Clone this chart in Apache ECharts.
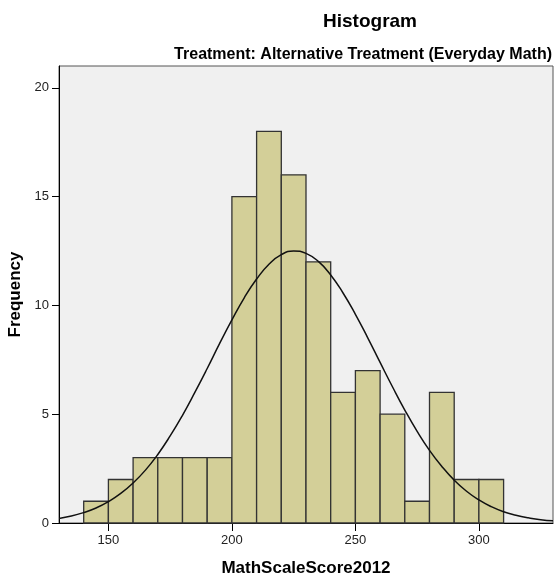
<!DOCTYPE html>
<html>
<head>
<meta charset="utf-8">
<script src="https://cdn.jsdelivr.net/npm/echarts@6/dist/echarts.min.js"></script>
<style>
  html, body { margin: 0; padding: 0; background: #fff; }
  #chart { width: 558px; height: 575px; }
</style>
</head>
<body>
<div id="chart"></div>
<script>
// histogram bins (width 10)
var binStarts = [140, 150, 160, 170, 180, 190, 200, 210, 220, 230, 240, 250, 260, 270, 280, 290, 300];
var counts = [1, 2, 3, 3, 3, 3, 15, 18, 16, 12, 6, 7, 5, 1, 6, 2, 2];
var binWidth = 10;

// normal curve
var curveX = [130, 135, 140, 145, 150, 155, 160, 165, 170, 175, 180, 185, 190, 195, 200, 205, 210, 215, 220, 225,
              230, 235, 240, 245, 250, 255, 260, 265, 270, 275, 280, 285, 290, 295, 300, 305, 310, 315, 320, 325, 330];
var curveY = [0.21, 0.32, 0.48, 0.69, 0.98, 1.36, 1.84, 2.43, 3.15, 4.00, 4.95, 6.00, 7.10, 8.24, 9.33, 10.35, 11.21, 11.89, 12.33, 12.50,
              12.39, 12.02, 11.40, 10.57, 9.59, 8.51, 7.38, 6.26, 5.19, 4.21, 3.34, 2.60, 1.97, 1.46, 1.06, 0.75, 0.52, 0.36, 0.24, 0.15, 0.10];

var xTicks = [150, 200, 250, 300];
var yTicks = [0, 5, 10, 15, 20];

var barData = [];
for (var i = 0; i < binStarts.length; i++) {
    barData.push([binStarts[i], binStarts[i] + binWidth, counts[i]]);
}
var lineData = [];
for (var j = 0; j < curveX.length; j++) {
    lineData.push([curveX[j], curveY[j]]);
}

var myChart = echarts.init(document.getElementById('chart'));
myChart.setOption({
    animation: false,
    title: [{
        text: 'Histogram',
        left: 365, top: 7, textAlign: 'center',
        textStyle: {fontFamily: 'Liberation Sans', fontSize: 19, fontWeight: 'bold', color: '#000'}
    }, {
        text: 'Treatment: Alternative Treatment (Everyday Math)',
        right: 1, top: 42,
        textStyle: {fontFamily: 'Liberation Sans', fontSize: 16, fontWeight: 'bold', color: '#000'}
    }],
    grid: {
        left: 59, right: 5, top: 66, bottom: 52,
        outerBoundsMode: 'none',
        containLabel: false,
        show: true,
        backgroundColor: '#f0f0f0',
        borderColor: '#555',
        borderWidth: 1
    },
    xAxis: {
        type: 'value',
        min: 130, max: 330,
        name: 'MathScaleScore2012',
        nameLocation: 'middle',
        nameGap: 37,
        nameTextStyle: {fontFamily: 'Liberation Sans', fontSize: 17, fontWeight: 'bold', color: '#000'},
        splitLine: {show: false},
        axisLine: {show: true, lineStyle: {color: '#000', width: 1}},
        axisTick: {show: true, length: 8, lineStyle: {color: '#000'}, customValues: xTicks},
        axisLabel: {customValues: xTicks, fontFamily: 'Liberation Sans', fontSize: 13, color: '#222', margin: 11}
    },
    yAxis: {
        type: 'value',
        min: 0, max: 21,
        name: 'Frequency',
        nameLocation: 'middle',
        nameGap: 34,
        nameTextStyle: {fontFamily: 'Liberation Sans', fontSize: 17, fontWeight: 'bold', color: '#000'},
        splitLine: {show: false},
        axisLine: {show: true, lineStyle: {color: '#000', width: 1}},
        axisTick: {show: true, length: 7, lineStyle: {color: '#000'}, customValues: yTicks},
        axisLabel: {customValues: yTicks, fontFamily: 'Liberation Sans', fontSize: 13, color: '#222', margin: 10}
    },
    series: [{
        type: 'custom',
        data: barData,
        renderItem: function (params, api) {
            var p0 = api.coord([api.value(0), api.value(2)]);
            var p1 = api.coord([api.value(1), 0]);
            return {
                type: 'rect',
                shape: {x: p0[0], y: p0[1], width: p1[0] - p0[0], height: p1[1] - p0[1]},
                style: {fill: '#d3cf98', stroke: '#333', lineWidth: 1.3}
            };
        }
    }, {
        type: 'line',
        data: lineData,
        smooth: true,
        showSymbol: false,
        lineStyle: {color: '#111', width: 1.5}
    }]
});
</script>
</body>
</html>
